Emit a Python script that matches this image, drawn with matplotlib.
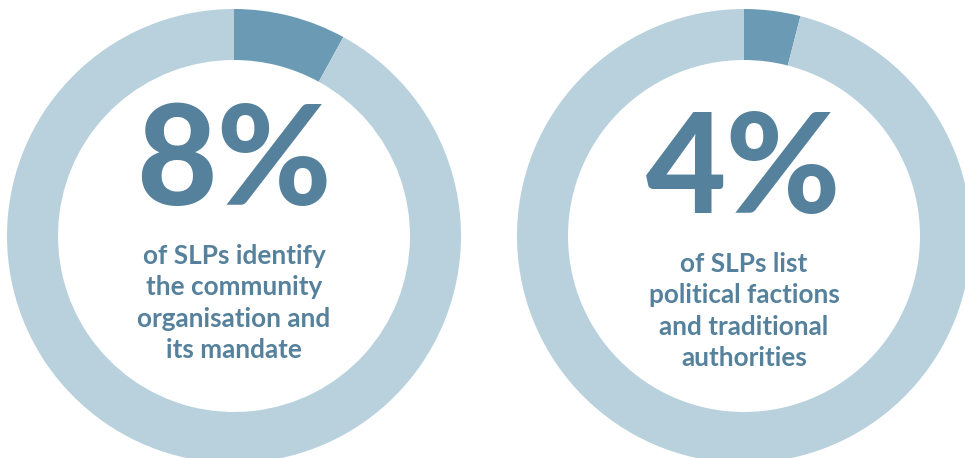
import matplotlib
matplotlib.use("Agg")
import matplotlib.pyplot as plt

# Share of SLPs for each statement (percent)
shares = [8, 4]
captions = [
    "of SLPs identify\nthe community\norganisation and\nits mandate",
    "of SLPs list\npolitical factions\nand traditional\nauthorities",
]

W, H = 965, 458
HIGHLIGHT = "#6b9bb4"
RING = "#b8d1dd"
TEXT = "#55819c"

fig = plt.figure(figsize=(W / 100, H / 100), dpi=100)
ax = fig.add_axes([0, 0, 1, 1])

centers_x = [234, 744]
center_y = H - 236
outer_r = 227
ring_w = 51
number_baseline = [H - 205, H - 213]
caption_y = [H - 303, H - 311]

for cx, share, caption, ny, cy in zip(centers_x, shares, captions,
                                       number_baseline, caption_y):
    ax.pie(
        [share, 100 - share],
        colors=[HIGHLIGHT, RING],
        startangle=90,
        counterclock=False,
        center=(cx, center_y),
        radius=outer_r,
        wedgeprops=dict(width=ring_w, linewidth=0),
        frame=True,
    )
    ax.text(cx, ny, f"{share}%", ha="center", va="baseline",
            fontsize=100, fontweight="black", family="Lato", color=TEXT)
    ax.text(cx, cy, caption, ha="center", va="center",
            fontsize=18.8, fontweight="bold", family="Lato", color=TEXT,
            linespacing=1.38)

ax.set_xlim(0, W)
ax.set_ylim(0, H)
ax.set_aspect("equal")
ax.axis("off")
fig.savefig("out.png", dpi=100)
